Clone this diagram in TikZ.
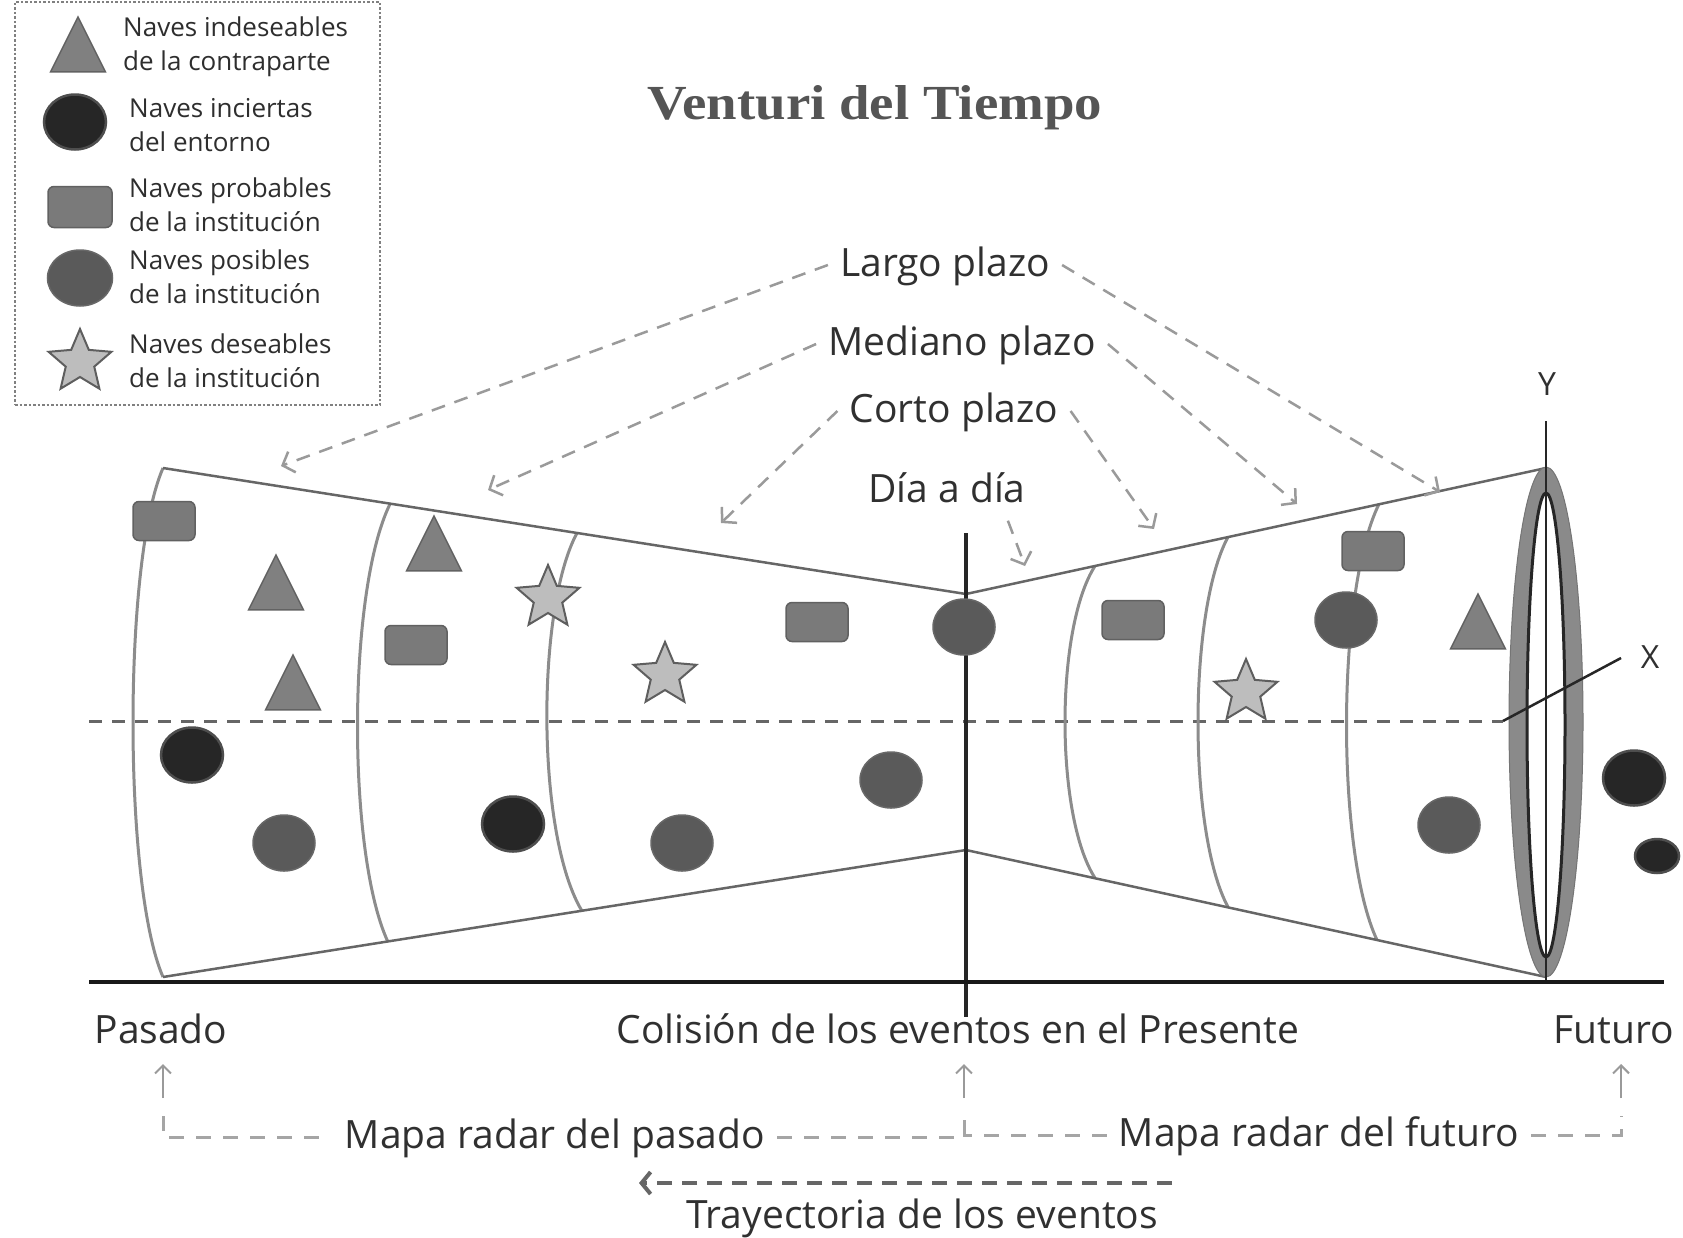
\documentclass[tikz,border=0pt]{standalone}
\usepackage{fontspec}
\usepackage{graphicx}
\setmainfont{Open Sans}
\newfontfamily\titlefont{Liberation Serif}
\usetikzlibrary{arrows.meta,positioning,shapes.geometric,calc}
\definecolor{txtGray}{HTML}{303030}
\definecolor{titleGray}{HTML}{555555}
\definecolor{legGray}{HTML}{2E2E2E}
\definecolor{triFill}{HTML}{808080}
\definecolor{triEdge}{HTML}{626262}
\definecolor{rectFill}{HTML}{7A7A7A}
\definecolor{rectEdge}{HTML}{616161}
\definecolor{posFill}{HTML}{5A5A5A}
\definecolor{posEdge}{HTML}{686868}
\definecolor{uncFill}{HTML}{262626}
\definecolor{uncEdge}{HTML}{4E4E4E}
\definecolor{starFill}{HTML}{BDBDBD}
\definecolor{starEdge}{HTML}{5E5E5E}
\definecolor{wallGray}{HTML}{666666}
\definecolor{ringGray}{HTML}{8C8C8C}
\definecolor{bandGray}{HTML}{8A8A8A}
\definecolor{arrGray}{HTML}{9A9A9A}
\definecolor{mapGray}{HTML}{A5A5A5}
\definecolor{trayGray}{HTML}{666666}
\newcommand{\lblfont}{\fontsize{39}{44}\selectfont}
\newcommand{\legfont}{\fontsize{26}{34}\selectfont}
\newcommand{\ttlfont}{\titlefont\bfseries\fontsize{49}{56}\selectfont}
\tikzset{
    every node/.append style={align=center},
    legbox/.style={rectangle,draw=gray,line width=2pt,dash pattern=on 2.5pt off 2pt,
        minimum width=365pt,minimum height=403pt,inner sep=0pt},
    legtxt/.style={font=\legfont,text=legGray,anchor=west,align=left,inner sep=0pt},
    lbl/.style={font=\lblfont,text=txtGray,inner sep=12pt,text height=29pt,text depth=6pt},
    axlbl/.style={font=\fontsize{32}{36}\selectfont,text=txtGray,inner sep=2pt},
    shipTri/.style={isosceles triangle,isosceles triangle stretches,shape border rotate=90,
        draw=triEdge,fill=triFill,line width=1.5pt,minimum width=55pt,minimum height=55pt,inner sep=0pt},
    shipRect/.style={rectangle,rounded corners=6pt,draw=rectEdge,fill=rectFill,line width=1.5pt,
        minimum width=62pt,minimum height=39pt,inner sep=0pt},
    shipPos/.style={ellipse,draw=posEdge,fill=posFill,line width=1.5pt,
        minimum width=62pt,minimum height=56pt,inner sep=0pt},
    shipUnc/.style={ellipse,draw=uncEdge,fill=uncFill,line width=2.5pt,
        minimum width=62pt,minimum height=55pt,inner sep=0pt},
    shipStar/.style={star,star points=5,star point ratio=2.2,draw=starEdge,fill=starFill,
        line width=2pt,minimum size=66pt,inner sep=0pt},
    wall/.style={draw=wallGray,line width=2.5pt},
    ring/.style={draw=ringGray,line width=3pt},
    axisdash/.style={draw=wallGray,line width=3pt,dash pattern=on 13pt off 10pt},
    axisline/.style={draw=black!85,line width=2.5pt},
    ground/.style={draw=black!90,line width=4.5pt},
    neck/.style={draw=black!85,line width=4pt},
    tarr/.style={draw=arrGray,line width=2.5pt,dash pattern=on 14pt off 10pt,
        -{Straight Barb[length=10pt,width=22pt]}},
    uparr/.style={draw=arrGray,line width=2pt,-{Straight Barb[length=8pt,width=16pt]}},
    mapdash/.style={draw=mapGray,line width=3pt,dash pattern=on 15pt off 12pt},
    trayarr/.style={draw=trayGray,line width=4pt,dash pattern=on 15pt off 10pt,
        -{Straight Barb[length=9pt,width=22pt]}}
}

\begin{document}
\begin{tikzpicture}[x=1pt,y=-1pt]
    \useasboundingbox[fill=white] (0,0) rectangle (1683,1237);

    % legend
    \node[legbox] (legend) at (197.5,203.5) {};
    \node[shipTri,anchor=apex] (kTri) at (78,15) {};
    \node[shipUnc] (kUnc) at (75,122) {};
    \node[shipRect,minimum width=64pt,minimum height=41pt] (kRect) at (80,207) {};
    \node[shipPos,minimum width=65pt] (kPos) at (80,278) {};
    \node[shipStar] (kStar) at (80,362) {};
    \node[legtxt] (tTri)  at (123,47)  {Naves indeseables\\de la contraparte};
    \node[legtxt] (tUnc)  at (129,125) {Naves inciertas\\del entorno};
    \node[legtxt] (tRect) at (129,205) {Naves probables\\de la institución};
    \node[legtxt] (tPos)  at (129,277) {Naves posibles\\de la institución};
    \node[legtxt] (tStar) at (129,361) {Naves deseables\\de la institución};

    \node[font=\ttlfont,text=titleGray] (title) at (875,108) {\scalebox{1.12}[1]{Venturi del Tiempo}};

    % horizons
    \node[lbl] (largo)   at (945,265) {Largo plazo};
    \node[lbl] (mediano) at (962,344) {Mediano plazo};
    \node[lbl] (corto)   at (954,411) {Corto plazo};
    \node[lbl] (dia)     at (947,491) {Día a día};

    \coordinate (lgL) at (281,466);  \coordinate (lgR) at (1440,492);
    \coordinate (mdL) at (488,490);  \coordinate (mdR) at (1297,504);
    \coordinate (ctL) at (721,523);  \coordinate (ctR) at (1154,529);
    \coordinate (diaT) at (1025,566);

    % venturi body
    \coordinate (vTL) at (163,468);  \coordinate (vBL) at (163,977);
    \coordinate (nT)  at (966,594);  \coordinate (nB)  at (966,850);
    \coordinate (vTR) at (1546,468); \coordinate (vBR) at (1546,977);
    \coordinate (nkTop) at (966,533); \coordinate (nkBot) at (966,1017);
    \coordinate (xO) at (1503,721);   \coordinate (xEnd) at (1621,658);
    \coordinate (dL) at (89,721);
    \coordinate (gL) at (89,982);     \coordinate (gR) at (1664,982);
    \coordinate (yTop) at (1546,421); \coordinate (yBot) at (1546,982);

    \draw[axisdash] (dL) -- (xO);
    \foreach \tx/\ty/\cx/\ca/\cb/\bx/\by in {163/468/123/560/885/163/977,
        390/504/347/592/854/388/942, 577/533/536/609/835/582/911,
        1095/566/1055/628/816/1095/878, 1228/537/1188/611/833/1228/907,
        1379/504/1336/591/853/1377/940}
        { \draw[ring] (\tx,\ty) .. controls (\cx,\ca) and (\cx,\cb) .. (\bx,\by); }
    \draw[wall] (vTL) -- (nT) -- (vTR);
    \draw[wall] (vBL) -- (nB) -- (vBR);
    \draw[neck] (nkTop) -- (nkBot);

    % ships
    \node[shipRect] (r1) at (164,521) {};
    \node[shipTri,anchor=apex] (t1) at (276,553) {};
    \node[shipTri,anchor=apex] (t2) at (293,653) {};
    \node[shipTri,anchor=apex] (t3) at (434,514) {};
    \node[shipRect] (r2) at (416,645) {};
    \node[shipStar] (s1) at (548,598) {};
    \node[shipUnc] (u1) at (192,755) {};
    \node[shipPos] (p1) at (284,843) {};
    \node[shipUnc] (u2) at (513,824) {};
    \node[shipStar] (s2) at (665,675) {};
    \node[shipRect] (r3) at (817,622) {};
    \node[shipPos] (p2) at (682,843) {};
    \node[shipPos] (p3) at (891,780) {};
    \node[shipPos] (p4) at (964,627) {};
    \node[shipRect] (r4) at (1133,620) {};
    \node[shipStar] (s3) at (1246,692) {};
    \node[shipRect] (r5) at (1373,551) {};
    \node[shipPos] (p5) at (1346,620) {};
    \node[shipTri,anchor=apex] (t4) at (1478,592) {};
    \node[shipPos] (p6) at (1449,825) {};
    \node[shipUnc] (u3) at (1634,778) {};
    \node[shipUnc,minimum width=44pt,minimum height=34pt] (u4) at (1657,856) {};

    % future ring and axes
    \draw[draw=bandGray!85!black,fill=bandGray,line width=1pt] (1546,722) ellipse [x radius=37,y radius=255];
    \draw[draw=black!85,fill=white,line width=3pt] (1546,725) ellipse [x radius=19,y radius=232];
    \draw[axisline] (yTop) -- (yBot);
    \draw[axisline] (xO) -- (xEnd);
    \node[axlbl] (ylab) at (1547,384) {Y};
    \node[axlbl] (xlab) at (1650,657) {X};
    \draw[ground] (gL) -- (gR);

    \draw[tarr] (largo.west) -- (lgL);
    \draw[tarr] (largo.east) -- (lgR);
    \draw[tarr] (mediano.west) -- (mdL);
    \draw[tarr] (mediano.east) -- (mdR);
    \draw[tarr] (corto.west) -- (ctL);
    \draw[tarr] (corto.east) -- (ctR);
    \draw[tarr] ([xshift=-30pt]dia.south east) -- (diaT);

    % time line
    \node[lbl] (pasado)   at (161,1032) {Pasado};
    \node[lbl] (presente) at (958,1032) {Colisión de los eventos en el Presente};
    \node[lbl] (futuro)   at (1614,1032) {Futuro};
    \node[lbl] (mapaP)    at (555,1137) {Mapa radar del pasado};
    \node[lbl] (mapaF)    at (1319,1135) {Mapa radar del futuro};
    \node[lbl] (tray)     at (922,1217) {Trayectoria de los eventos};

    \coordinate (aP) at (163,1098); \coordinate (aC) at (964,1098); \coordinate (aF) at (1621,1098);
    \coordinate (bP) at (163,1116); \coordinate (bC) at (964,1116); \coordinate (bF) at (1621,1116);
    \foreach \a in {aP,aC,aF} { \draw[uparr] (\a) -- ++(0,-34); }
    \draw[mapdash,shorten <=14pt] (mapaP.west) -| (bP);
    \draw[mapdash] (mapaP.east) -| (bC);
    \draw[mapdash] (mapaF.west) -| (bC);
    \draw[mapdash] (mapaF.east) -| (bF);

    \coordinate (trS) at (1172,1183); \coordinate (trE) at (639,1183);
    \draw[trayarr] (trS) -- (trE);
\end{tikzpicture}
\end{document}
